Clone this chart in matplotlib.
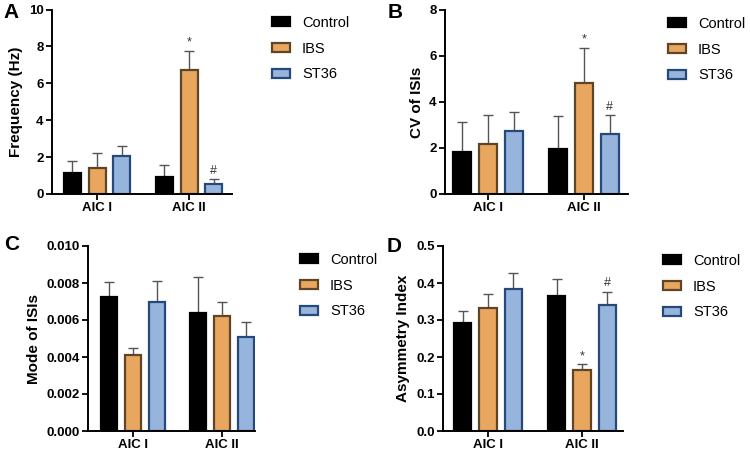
import matplotlib
matplotlib.use("Agg")
import matplotlib.pyplot as plt
import numpy as np

plt.rcParams["font.family"] = ["Liberation Sans", "DejaVu Sans"]

groups = ["AIC I", "AIC II"]
series = ["Control", "IBS", "ST36"]

# mean / mean+SEM top per panel, order: Control, IBS, ST36; each [AIC I, AIC II]
freq_mean = [[1.15, 0.93], [1.40, 6.70], [2.05, 0.55]]
freq_top = [[1.78, 1.55], [2.20, 7.75], [2.60, 0.80]]
cv_mean = [[1.82, 1.97], [2.17, 4.82], [2.73, 2.62]]
cv_top = [[3.12, 3.37], [3.42, 6.35], [3.57, 3.42]]
mode_mean = [[0.00722, 0.00637], [0.00410, 0.00622], [0.00700, 0.00510]]
mode_top = [[0.00806, 0.00833], [0.00451, 0.00700], [0.00813, 0.00590]]
asym_mean = [[0.292, 0.366], [0.332, 0.165], [0.385, 0.341]]
asym_top = [[0.325, 0.412], [0.371, 0.180], [0.428, 0.377]]

FILL = ["#000000", "#E9A65E", "#97B4DC"]
EDGE = ["#000000", "#5E4526", "#24497A"]
ERR = "#555555"

W, H = 750, 458
fig = plt.figure(figsize=(W / 100, H / 100), dpi=100)


def px_axes(l, r, t, b):
    return fig.add_axes([l / W, 1 - b / H, (r - l) / W, (b - t) / H])


panels = [
    # letter, ylabel, mean, top, ylim, ticks, fmt, axes px (l, r, t, b), xlim,
    # legend px (x, y), letter px (x, y), marks
    ("A", "Frequency (Hz)", freq_mean, freq_top, 10, np.arange(0, 11, 2), "{:.0f}",
     (52, 232, 9.5, 194), (-0.49, 1.467), (272, 16), (3, 13), {(1, 1): "*", (2, 1): "#"}),
    ("B", "CV of ISIs", cv_mean, cv_top, 8, np.arange(0, 9, 2), "{:.0f}",
     (445, 628, 10, 194), (-0.45, 1.46), (668, 17), (388, 13), {(1, 1): "*", (2, 1): "#"}),
    ("C", "Mode of ISIs", mode_mean, mode_top, 0.010, np.arange(0, 0.0101, 0.002), "{:.3f}",
     (88, 255, 246, 431), (-0.506, 1.37), (300, 253), (4, 245), {}),
    ("D", "Asymmetry Index", asym_mean, asym_top, 0.5, np.arange(0, 0.51, 0.1), "{:.1f}",
     (443, 623, 246, 431), (-0.48, 1.436), (663, 254), (387, 246), {(1, 1): "*", (2, 1): "#"}),
]

x = np.arange(len(groups))
offs = [-0.27, 0.0, 0.27]
bw = 0.185

for letter, ylabel, mean, top, ymax, ticks, fmt, box, xlim, leg, lpos, marks in panels:
    ax = px_axes(*box)
    handles = []
    for i, name in enumerate(series):
        m = np.array(mean[i])
        e = np.array(top[i]) - m
        ax.errorbar(x + offs[i], m, yerr=[np.zeros_like(e), e], fmt="none",
                    ecolor=ERR, elinewidth=1.0, capsize=3.8, capthick=1.0, zorder=1)
        b = ax.bar(x + offs[i], m, width=bw, color=FILL[i], edgecolor=EDGE[i],
                   linewidth=1.6, label=name, zorder=2)
        handles.append(b)
        for j in range(len(groups)):
            if (i, j) in marks:
                ax.text(x[j] + offs[i], top[i][j] + ymax * 0.012, marks[(i, j)],
                        ha="center", va="bottom", fontsize=9, color="#333333")
    ax.set_xlim(*xlim)
    ax.set_ylim(0, ymax)
    ax.set_yticks(ticks)
    ax.set_yticklabels([fmt.format(t) for t in ticks], fontweight="bold", fontsize=9.5)
    ax.set_xticks(x)
    ax.set_xticklabels(groups, fontweight="bold", fontsize=9.5)
    ax.set_ylabel(ylabel, fontweight="bold", fontsize=11, labelpad=4)
    for s in ("top", "right"):
        ax.spines[s].set_visible(False)
    for s in ("left", "bottom"):
        ax.spines[s].set_linewidth(1.4)
    ax.tick_params(width=1.3, length=4, pad=2)
    ax.legend(handles=handles, loc="upper left", frameon=False, fontsize=10.5,
              handlelength=1.25, handleheight=0.6, labelspacing=0.8, handletextpad=0.8,
              borderaxespad=0, borderpad=0,
              bbox_to_anchor=(leg[0] / W, 1 - leg[1] / H), bbox_transform=fig.transFigure)
    fig.text(lpos[0] / W, 1 - lpos[1] / H, letter, fontsize=15, fontweight="bold",
             ha="left", va="center")

fig.savefig("out.png", dpi=100)
